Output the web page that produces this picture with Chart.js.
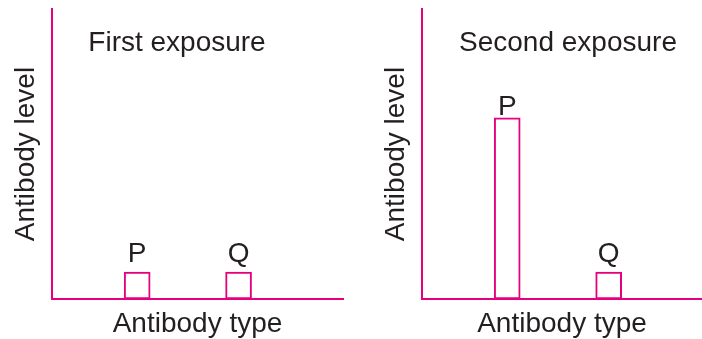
<!DOCTYPE html>
<html>
<head>
<meta charset="utf-8">
<script src="https://cdn.jsdelivr.net/npm/chart.js"></script>
<style>
  body { margin: 0; background: #fff; }
  .panel { position: absolute; top: 0; height: 339px; }
  #left { left: 0; width: 351px; }
  #right { left: 370px; width: 332px; }
</style>
</head>
<body>
<div class="panel" id="left"><canvas id="firstChart"></canvas></div>
<div class="panel" id="right"><canvas id="secondChart"></canvas></div>
<script>
  // antibody types and levels (axis runs 0..10)
  const antibodyTypes = ['P', 'Q'];
  const firstExposure = [0.93, 0.93];
  const secondExposure = [6.25, 0.93];
  const panelTitles = ['First exposure', 'Second exposure'];
  const yTitle = 'Antibody level';
  const xTitle = 'Antibody type';

  const PINK = '#e6007e';
  const TEXT = '#231f20';
  const FONT = 'Liberation Sans, Arial, sans-serif';

  // draws panel title + the P/Q letter over each bar
  const panelText = {
    id: 'panelText',
    afterDatasetsDraw(chart, args, opts) {
      const ctx = chart.ctx;
      const area = chart.chartArea;
      ctx.save();
      ctx.fillStyle = TEXT;
      ctx.font = '28px ' + FONT;
      ctx.textAlign = 'center';
      ctx.textBaseline = 'alphabetic';
      ctx.fillText(opts.title, area.left + opts.titleX, 51);
      const meta = chart.getDatasetMeta(0);
      meta.data.forEach((bar, i) => {
        ctx.fillText(antibodyTypes[i], bar.x, bar.y - opts.gaps[i]);
      });
      ctx.restore();
    }
  };

  function makeChart(id, values, title, titleX, gaps, xMax, padRight) {
    const points = values.map((v, i) => ({ x: i + 1, y: v }));
    return new Chart(document.getElementById(id), {
      type: 'bar',
      data: {
        datasets: [{
          data: points,
          backgroundColor: '#ffffff',
          borderColor: PINK,
          borderWidth: 2,
          borderSkipped: false,
          barThickness: 26
        }]
      },
      plugins: [panelText],
      options: {
        responsive: true,
        maintainAspectRatio: false,
        animation: false,
        layout: { padding: { top: 9, right: padRight, left: 0, bottom: 0 } },
        scales: {
          x: {
            type: 'linear',
            offset: false,
            min: 0.16,
            max: xMax,
            grid: { display: false, drawTicks: false },
            ticks: { display: false },
            border: { display: true, color: PINK, width: 2 },
            title: {
              display: true, text: xTitle, color: TEXT,
              font: { family: FONT, size: 28, lineHeight: 1.2 },
              padding: { top: 0, bottom: -2 }
            },
            afterFit(scale) { scale.height = 40; }
          },
          y: {
            min: 0,
            max: 10,
            grid: { display: false, drawTicks: false },
            ticks: { display: false },
            border: { display: true, color: PINK, width: 2 },
            title: {
              display: true, text: yTitle, color: TEXT,
              font: { family: FONT, size: 28, lineHeight: 1.2 },
              padding: { top: 9, bottom: 0 }
            },
            afterFit(scale) { scale.width = 52; }
          }
        },
        plugins: {
          legend: { display: false },
          tooltip: { enabled: false },
          panelText: { title: title, titleX: titleX, gaps: gaps }
        }
      }
    });
  }

  makeChart('firstChart', firstExposure, panelTitles[0], 125, [10, 10], 3.03, 8);
  makeChart('secondChart', secondExposure, panelTitles[1], 146, [3, 10], 2.92, 0);
</script>
</body>
</html>
